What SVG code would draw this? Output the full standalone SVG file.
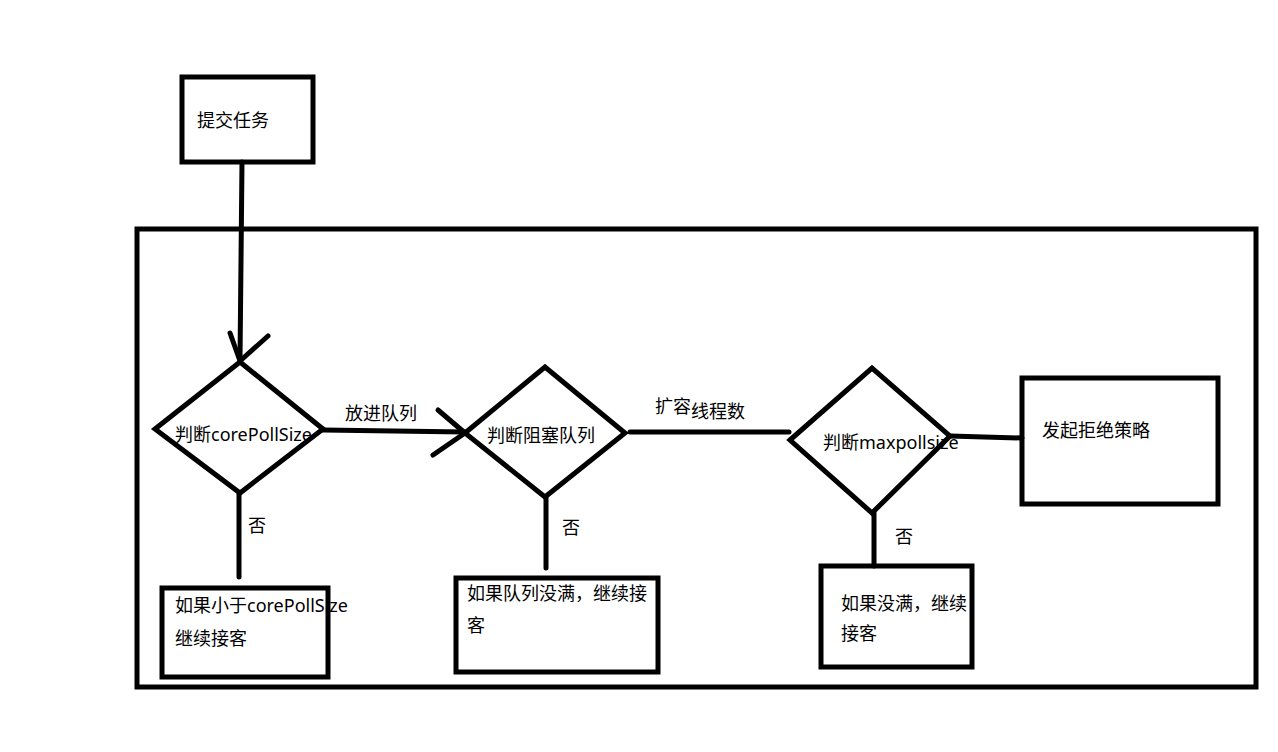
<svg xmlns="http://www.w3.org/2000/svg" width="1278" height="752" viewBox="0 0 1278 752">
<style>
.s{fill:none;stroke:#000;stroke-width:5;stroke-linecap:round;stroke-linejoin:miter}
.b{fill:none;stroke:#000;stroke-width:5}
.t{font-family:"Noto Sans","Noto Sans CJK SC",sans-serif;font-size:18px;fill:#000}
</style>
<rect width="1278" height="752" fill="#fff"/>
<g id="container"><rect x="137" y="229" width="1119" height="458" class="b"/></g>
<g id="connectors">
<path class="s" d="M242 162 L240 360"/>
<path class="s" d="M230 333 L240 361 L268 336"/>
<path class="s" d="M323 430 L465 432"/>
<text class="t" x="345" y="420">放进队列</text>
<path class="s" d="M438 410 L465 433 M433 455 L465 433"/>
<path class="s" d="M630 432 L789 432"/>
<text class="t" x="655" y="413">扩容<tspan dy="5">线程数</tspan></text>
<path class="s" d="M950 436 L1022 438"/>
<path class="s" d="M239 494 L239 577"/>
<text class="t" x="248" y="532">否</text>
<path class="s" d="M546 497 L546 568"/>
<text class="t" x="562" y="534">否</text>
<path class="s" d="M874 513 L874 566"/>
<text class="t" x="895" y="543">否</text>
</g>
<g id="submit"><text class="t" x="197" y="127">提交任务</text><rect x="182" y="77" width="131" height="85" class="b"/></g>
<g id="d1"><text class="t" x="175" y="441">判断corePollSize</text><polygon class="s" points="155,429 240,362 323,429 240,493"/></g>
<g id="d2"><text class="t" x="487" y="442">判断阻塞队列</text><polygon class="s" points="465,433 545,367 625,433 545,497"/></g>
<g id="d3"><text class="t" x="823" y="449">判断maxpollsize</text><polygon class="s" points="790,440 872,368 950,436 872,513"/></g>
<g id="reject"><text class="t" x="1042" y="437">发起拒绝策略</text><rect x="1022" y="378" width="196" height="126" class="b"/></g>
<g id="b1"><text class="t" x="175" y="612">如果小于corePollSize</text><text class="t" x="175" y="645">继续接客</text><rect x="162" y="588" width="166" height="89" class="b"/></g>
<g id="b2"><text class="t" x="467" y="600">如果队列没满，继续接</text><text class="t" x="467" y="632">客</text><rect x="456" y="578" width="202" height="94" class="b"/></g>
<g id="b3"><text class="t" x="841" y="610">如果没满，继续</text><text class="t" x="841" y="640">接客</text><rect x="821" y="566" width="151" height="101" class="b"/></g>
</svg>
